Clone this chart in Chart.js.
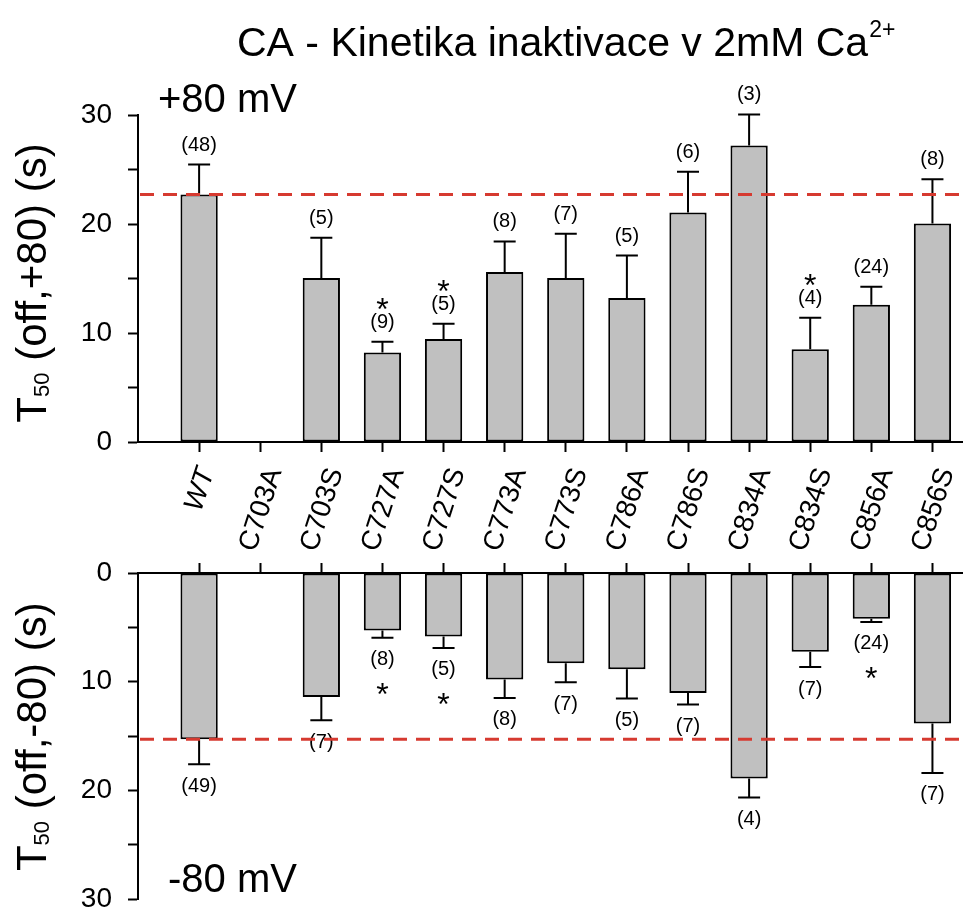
<!DOCTYPE html>
<html>
<head>
<meta charset="utf-8">
<script src="https://cdn.jsdelivr.net/npm/chart.js@4"></script>
<style>
  html, body { margin: 0; padding: 0; background: #fff; }
  #wrap { position: relative; width: 963px; height: 912px; }
  #wrap canvas { position: absolute; left: 0; }
</style>
</head>
<body>
<div id="wrap">
  <canvas id="topChart" width="963" height="560" style="top:0"></canvas>
  <canvas id="bottomChart" width="963" height="352" style="top:560px"></canvas>
</div>
<script>
const mutants = ['WT', 'C703A', 'C703S', 'C727A', 'C727S', 'C773A', 'C773S',
  'C786A', 'C786S', 'C834A', 'C834S', 'C856A', 'C856S'];

// T50 (off, +80 mV), seconds
const tPlus80 = [22.7, null, 15.05, 8.2, 9.45, 15.6, 15.05, 13.2, 21.05, 27.2, 8.5, 12.6, 20.05];
const errPlus80 = [2.75, null, 3.7, 1.0, 1.4, 2.8, 4.05, 3.9, 3.75, 2.85, 2.9, 1.65, 4.05];
const nPlus80 = ['(48)', '', '(5)', '(9)', '(5)', '(8)', '(7)', '(5)', '(6)', '(3)', '(4)', '(24)', '(8)'];
const starPlus80 = [0, 0, 0, 1, 1, 0, 0, 0, 0, 0, 1, 0, 0];

// T50 (off, -80 mV), seconds
const tMinus80 = [15.3, null, 11.4, 5.3, 5.85, 9.8, 8.3, 8.85, 11.05, 18.9, 7.25, 4.2, 13.85];
const errMinus80 = [2.3, null, 2.15, 0.65, 1.05, 1.7, 1.75, 2.7, 1.05, 1.75, 1.4, 0.3, 4.55];
const nMinus80 = ['(49)', '', '(7)', '(8)', '(5)', '(8)', '(7)', '(5)', '(7)', '(4)', '(7)', '(24)', '(7)'];
const starMinus80 = [0, 0, 0, 1, 1, 0, 0, 0, 0, 0, 0, 1, 0];

const yTicks = [0, 5, 10, 15, 20, 25, 30];

const FONT = '"Liberation Sans", Arial, sans-serif';
Chart.defaults.font.family = FONT;
Chart.defaults.color = '#000';

// error bars, n labels, significance stars and the WT reference line
function extrasPlugin(vals, errs, ns, stars, below) {
  return {
    id: 'extras',
    afterDatasetsDraw(chart) {
      const ctx = chart.ctx, x = chart.scales.x, y = chart.scales.y;
      const dir = below ? 1 : -1;
      ctx.save();
      ctx.strokeStyle = '#000';
      ctx.fillStyle = '#000';
      ctx.lineWidth = 2;
      vals.forEach((v, i) => {
        if (v == null) return;
        const px = x.getPixelForValue(i + 1);
        const p0 = y.getPixelForValue(v);
        const p1 = y.getPixelForValue(v + errs[i]);
        ctx.beginPath();
        ctx.moveTo(px, p0);
        ctx.lineTo(px, p1);
        ctx.moveTo(px - 11, p1);
        ctx.lineTo(px + 11, p1);
        ctx.stroke();

        const ly = p1 + dir * (below ? 22 : 19.5);
        ctx.font = '20px ' + FONT;
        ctx.textAlign = 'center';
        ctx.textBaseline = 'middle';
        ctx.fillText(ns[i], px, ly);
        if (stars[i]) {
          const sy = ly + dir * (below ? 27 : 20);
          ctx.font = '32px ' + FONT;
          ctx.textBaseline = 'alphabetic';
          ctx.fillText('*', px, sy + 18);
        }
      });
      // dashed line at WT mean
      const ry = y.getPixelForValue(vals[0]);
      ctx.strokeStyle = 'rgb(214,58,48)';
      ctx.lineWidth = 3;
      ctx.setLineDash([14, 9]);
      ctx.beginPath();
      ctx.moveTo(chart.chartArea.left + 2, ry);
      ctx.lineTo(chart.chartArea.right, ry);
      ctx.stroke();
      ctx.restore();
    }
  };
}

// rotated y title with subscript
function axisTitlePlugin(rest, centerY) {
  return {
    id: 'axisTitle',
    afterDraw(chart) {
      const ctx = chart.ctx;
      const big = '42px ' + FONT, small = '22px ' + FONT;
      ctx.save();
      ctx.font = big;
      const wT = ctx.measureText('T').width;
      const wRest = ctx.measureText(rest).width;
      ctx.font = small;
      const wSub = ctx.measureText('50').width;
      const total = wT + wSub + wRest;
      ctx.translate(46, centerY);
      ctx.rotate(-Math.PI / 2);
      ctx.fillStyle = '#000';
      ctx.textAlign = 'left';
      ctx.textBaseline = 'alphabetic';
      let cx = -total / 2;
      ctx.font = big;
      ctx.fillText('T', cx, 0);
      cx += wT;
      ctx.font = small;
      ctx.fillText('50', cx, 3);
      cx += wSub;
      ctx.font = big;
      ctx.fillText(rest, cx, 0);
      ctx.restore();
    }
  };
}

const topTexts = {
  id: 'topTexts',
  afterDraw(chart) {
    const ctx = chart.ctx, x = chart.scales.x;
    ctx.save();
    ctx.fillStyle = '#000';
    ctx.textBaseline = 'alphabetic';
    ctx.textAlign = 'left';
    // title with superscript
    const main = 'CA - Kinetika inaktivace v 2mM Ca';
    ctx.font = '41px ' + FONT;
    ctx.fillText(main, 237, 56);
    const w = ctx.measureText(main).width;
    ctx.font = '23px ' + FONT;
    ctx.fillText('2+', 237 + w + 1, 37);
    ctx.font = '40px ' + FONT;
    ctx.fillText('+80 mV', 158, 112);
    // rotated category labels, centred on their tick
    const ang = 72 * Math.PI / 180;
    const top = chart.chartArea.bottom + 24;
    mutants.forEach((m, i) => {
      const px = x.getPixelForValue(i + 1);
      ctx.save();
      ctx.font = (m === 'WT' ? 'italic ' : '') + '28px ' + FONT;
      const L = ctx.measureText(m).width;
      ctx.translate(px + 1, top + L / 2 * Math.sin(ang) + 3);
      ctx.rotate(-ang);
      ctx.textAlign = 'center';
      ctx.textBaseline = 'middle';
      ctx.fillText(m, 0, 0);
      ctx.restore();
    });
    ctx.restore();
  }
};

const bottomTexts = {
  id: 'bottomTexts',
  afterDraw(chart) {
    const ctx = chart.ctx;
    ctx.save();
    ctx.fillStyle = '#000';
    ctx.font = '40px ' + FONT;
    ctx.textAlign = 'left';
    ctx.textBaseline = 'alphabetic';
    ctx.fillText('-80 mV', 168, 332);
    ctx.restore();
  }
};

function xScale(position, height) {
  return {
    type: 'linear', position, min: 0, max: 13.5, offset: false,
    afterBuildTicks(s) { s.ticks = mutants.map((m, i) => ({ value: i + 1 })); },
    afterFit(s) { s.height = height; s.paddingLeft = 0; s.paddingRight = 0; },
    ticks: { display: false },
    grid: { offset: false, drawOnChartArea: false, drawTicks: true, tickLength: 10, tickWidth: 2, tickColor: '#000' },
    border: { display: true, color: '#000', width: 2 }
  };
}

function yScale(reverse) {
  return {
    min: 0, max: 30, reverse,
    afterBuildTicks(s) { s.ticks = yTicks.map(v => ({ value: v })); },
    afterFit(s) { s.width = 138; s.paddingTop = 0; s.paddingBottom = 0; },
    ticks: { padding: 16, font: { size: 28 }, color: '#000', autoSkip: false,
      callback: v => v % 10 === 0 ? v : '' },
    grid: { drawOnChartArea: false, drawTicks: true, tickLength: 10, tickWidth: 2, tickColor: '#000' },
    border: { display: true, color: '#000', width: 2 }
  };
}

function makeChart(id, vals, xPos, xHeight, reverse, padding, plugins) {
  return new Chart(document.getElementById(id), {
    type: 'bar',
    data: {
      datasets: [{
        data: vals.map((v, i) => ({ x: i + 1, y: v })),
        backgroundColor: '#c0c0c0',
        borderColor: '#000',
        borderWidth: 2,
        borderSkipped: false,
        barPercentage: 0.61,
        categoryPercentage: 1
      }]
    },
    options: {
      responsive: false,
      animation: false,
      events: [],
      layout: { padding },
      scales: { x: xScale(xPos, xHeight), y: yScale(reverse) },
      plugins: { legend: { display: false }, tooltip: { enabled: false } }
    },
    plugins
  });
}

makeChart('topChart', tPlus80, 'bottom', 118, false,
  { top: 115, left: 0, right: 0, bottom: 0 },
  [extrasPlugin(tPlus80, errPlus80, nPlus80, starPlus80, false),
   axisTitlePlugin(' (off,+80) (s)', 283), topTexts]);

makeChart('bottomChart', tMinus80, 'top', 13, true,
  { top: 0, left: 0, right: 0, bottom: 13 },
  [extrasPlugin(tMinus80, errMinus80, nMinus80, starMinus80, true),
   axisTitlePlugin(' (off,-80) (s)', 176.7), bottomTexts]);
</script>
</body>
</html>
